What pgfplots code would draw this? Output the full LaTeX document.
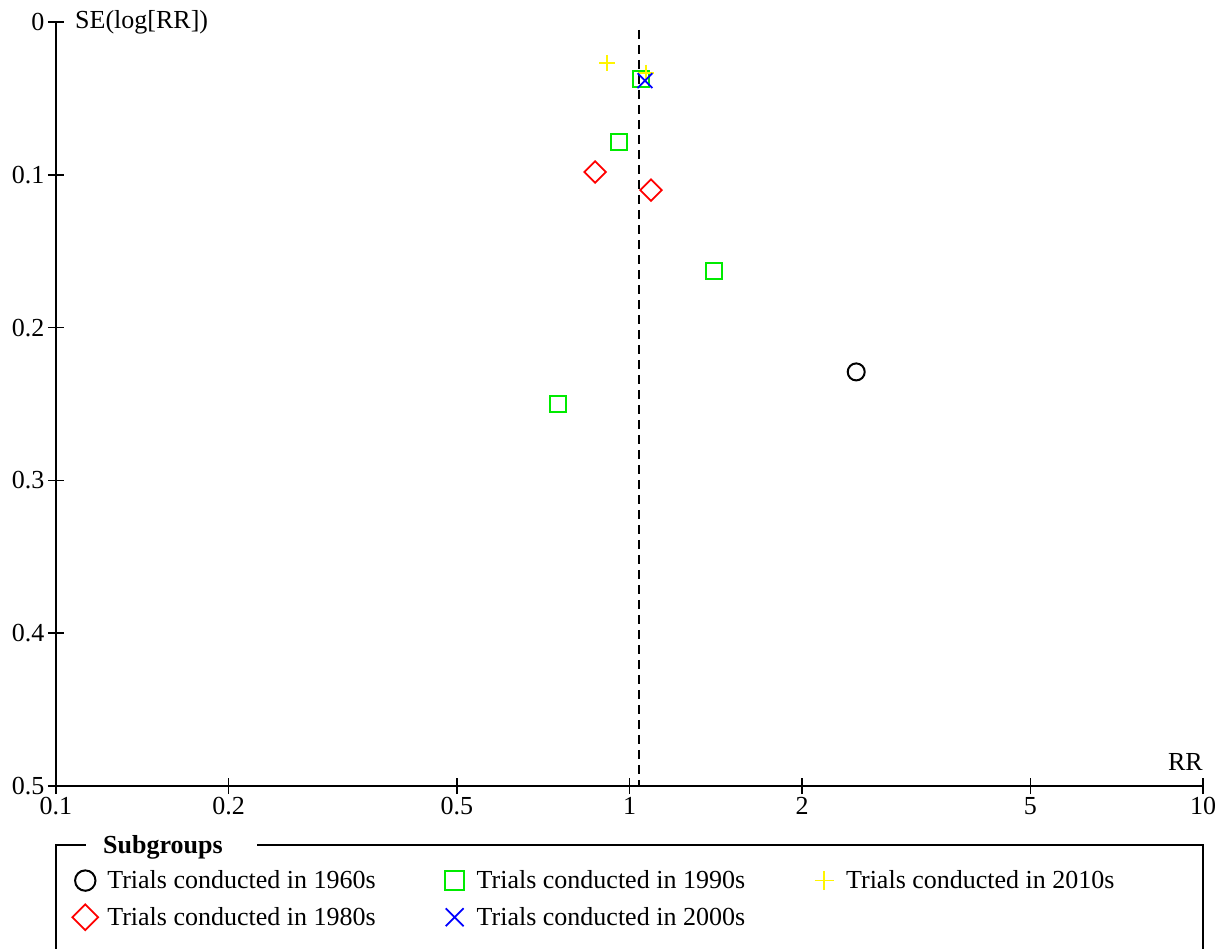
\documentclass[border=0pt]{standalone}
\usepackage{fontspec}
\setmainfont{Liberation Serif}
\usepackage{pgfplots}
\pgfplotsset{compat=1.18}
\definecolor{mygreen}{RGB}{0,235,0}
\definecolor{myyellow}{RGB}{255,245,0}
\newcommand\fs{\fontsize{26}{31}\selectfont}
\begin{document}
\begin{tikzpicture}
\path[use as bounding box] (-56pt,-163pt) rectangle (1165pt,786pt);
\begin{axis}[
  at={(0pt,0pt)}, anchor=south west,
  scale only axis, width=1147pt, height=764pt,
  xmode=log, xmin=0.1, xmax=10, ymin=0, ymax=0.5, y dir=reverse,
  axis lines=left,
  axis line style={-, line width=2pt, black},
  xtick={0.1,0.2,0.5,1,2,5,10}, xticklabels={0.1,0.2,0.5,1,2,5,10},
  ytick={0,0.1,0.2,0.3,0.4,0.5}, yticklabels={0,0.1,0.2,0.3,0.4,0.5},
  minor xtick={}, minor ytick={},
  tick align=center, major tick length=16pt,
  tick style={line width=1.6pt, black},
  ticklabel style={font=\fs},
  /pgf/number format/assume math mode=true,
  clip=false,
  legend columns=3,
  legend cell align=left,
  legend style={at={(axis description cs:0.0115,-0.1055)}, anchor=north west,
    draw=none, fill=none, font=\fs,
    /tikz/every even column/.append style={column sep=67pt},
    row sep=12pt},
  legend image code/.code={\path[draw=none,fill=none] (0pt,-5pt) rectangle (30pt,5pt); \draw[#1, every mark/.append style={scale=1.2}] plot coordinates {(10pt,0pt)};},
]
% 1960s
\addplot[only marks, mark=o, mark size=8.5pt, line width=2pt, black]
  coordinates {(2.485,0.229)};
\addlegendentry{Trials conducted in 1960s}
% 1990s
\addplot[only marks, mark=square, mark size=8pt, line width=2pt, mygreen]
  coordinates {(1.047,0.0373) (0.959,0.0785) (1.404,0.163) (0.750,0.250)};
\addlegendentry{Trials conducted in 1990s}
% 2010s
\addplot[only marks, mark=+, mark size=8pt, line width=1.8pt, myyellow]
  coordinates {(0.914,0.0268) (1.069,0.0332)};
\addlegendentry{Trials conducted in 2010s}
% 1980s
\addplot[only marks, mark=square, mark options={rotate=45}, mark size=7.6pt, line width=1.8pt, red]
  coordinates {(0.871,0.0982) (1.090,0.110)};
\addlegendentry{Trials conducted in 1980s}
% 2000s
\addplot[only marks, mark=x, mark size=10.5pt, line width=1.8pt, blue]
  coordinates {(1.064,0.0384)};
\addlegendentry{Trials conducted in 2000s}
% pooled estimate
\addplot[black, line width=1.5pt, dash pattern=on 9pt off 6pt, forget plot]
  coordinates {(1.039,0.0052) (1.039,0.5)};
\end{axis}
\node[anchor=west, font=\fs, inner sep=0pt] at (19pt,764pt) {SE(log[RR])};
\node[anchor=south east, font=\fs, inner sep=0pt] at (1147pt,15pt) {RR};
% legend frame
\draw[line width=2pt] (0pt,-163pt) -- (0pt,-59pt) -- (30pt,-59pt);
\draw[line width=2pt] (201pt,-59pt) -- (1147pt,-59pt) -- (1147pt,-163pt);
\node[anchor=west, font=\fs\bfseries, inner sep=0pt] at (47pt,-61pt) {Subgroups};
\end{tikzpicture}
\end{document}
